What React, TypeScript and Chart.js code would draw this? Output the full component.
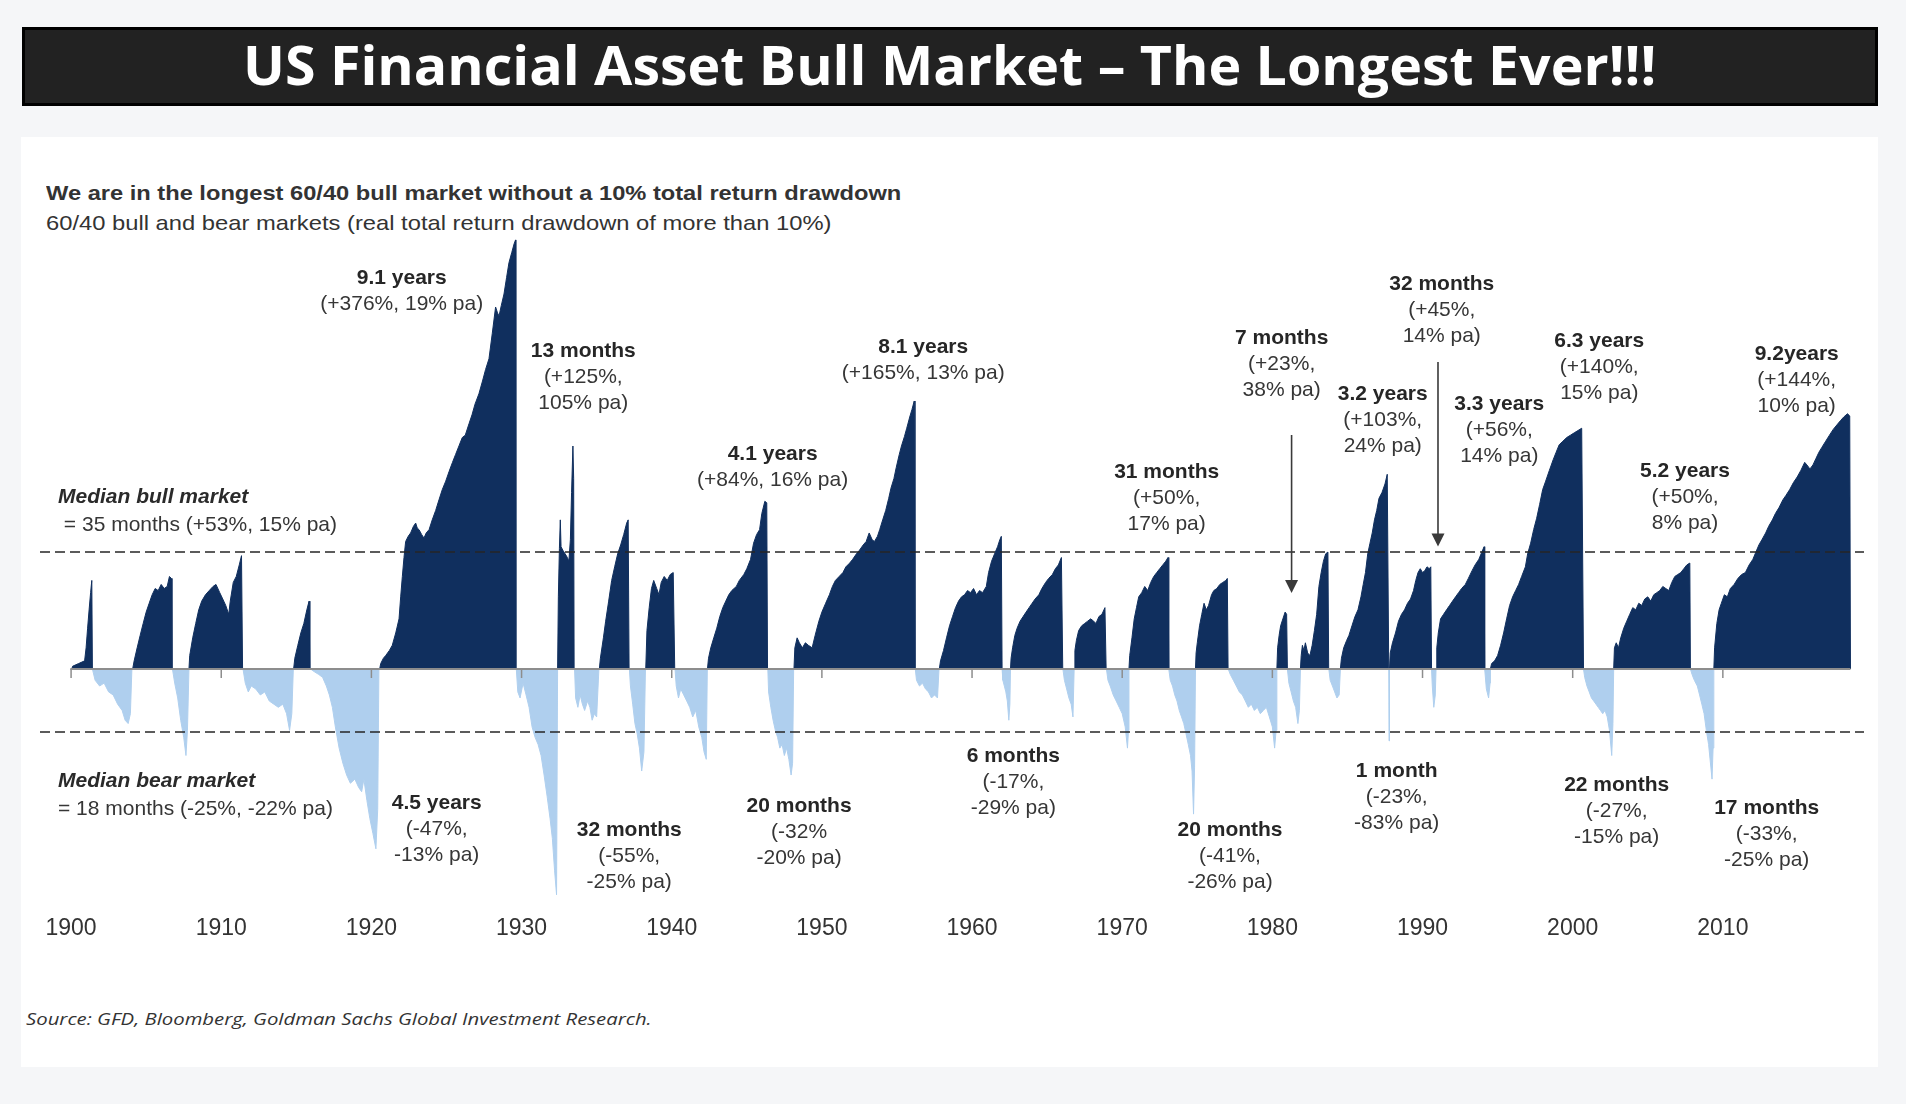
import React, { useEffect, useLayoutEffect, useRef } from 'react';
import { Chart, registerables } from 'chart.js';

Chart.register(...registerables);

// ---------------- text ----------------
const TITLE = 'US Financial Asset Bull Market \u2013 The Longest Ever!!!';
const SUBTITLE_1 = 'We are in the longest 60/40 bull market without a 10% total return drawdown';
const SUBTITLE_2 = '60/40 bull and bear markets (real total return drawdown of more than 10%)';
const SOURCE = 'Source: GFD, Bloomberg, Goldman Sachs Global Investment Research.';

// ---------------- data ----------------
const decades = [1900, 1910, 1920, 1930, 1940, 1950, 1960, 1970, 1980, 1990, 2000, 2010];
const medianBullReturn = 53; // % (upper dashed line)
const medianBearLine = -20.5; // % (lower dashed line, as drawn)
const baselineSpan = [1899.95, 2018.5];

// [year, cumulative real total return in %] - bull markets
const bullSeries: [number, number][] = [
  [1900.05, 0], [1900.1, 1], [1900.5, 2], [1900.9, 3], [1901.0, 8], [1901.1, 16], [1901.2, 24], [1901.3, 32], [1901.38, 38], [1901.42, 0],
  [1904.1, 0], [1904.2, 3], [1904.4, 8], [1904.6, 13], [1904.8, 18], [1905.0, 23], [1905.2, 27], [1905.4, 31], [1905.6, 34], [1905.8, 33], [1906.0, 36], [1906.2, 34], [1906.4, 35], [1906.55, 40], [1906.68, 39], [1906.72, 0],
  [1907.85, 0], [1907.9, 5], [1908.1, 12], [1908.3, 18], [1908.5, 24], [1908.7, 28], [1908.95, 31], [1909.2, 33], [1909.45, 35], [1909.65, 36], [1909.9, 32], [1910.1, 29], [1910.3, 26], [1910.5, 22], [1910.6, 28], [1910.8, 37], [1911.0, 40], [1911.2, 46], [1911.35, 51], [1911.42, 0],
  [1914.82, 0], [1914.9, 4], [1915.1, 9], [1915.3, 14], [1915.5, 18], [1915.7, 24], [1915.85, 28], [1915.9, 0],
  [1920.55, 0], [1920.62, 2], [1920.8, 4], [1920.95, 5], [1921.2, 7], [1921.39, 9], [1921.62, 14], [1921.84, 20], [1921.95, 30], [1922.06, 40], [1922.17, 50], [1922.28, 59], [1922.45, 62], [1922.61, 64], [1922.8, 68], [1922.95, 70], [1923.05, 67], [1923.17, 66], [1923.35, 63], [1923.5, 61], [1923.65, 64], [1923.84, 66], [1924.05, 72], [1924.28, 78], [1924.5, 85], [1924.72, 92], [1924.95, 98], [1925.17, 105], [1925.4, 112], [1925.6, 118], [1925.83, 125], [1926.05, 132], [1926.25, 134], [1926.5, 144], [1926.7, 152], [1926.9, 162], [1927.16, 172], [1927.4, 185], [1927.6, 197], [1927.83, 209], [1928.05, 239], [1928.27, 273], [1928.4, 265], [1928.5, 261], [1928.65, 275], [1928.83, 291], [1929.0, 315], [1929.16, 338], [1929.35, 355], [1929.5, 369], [1929.6, 376], [1929.62, 0],
  [1932.4, 0], [1932.45, 30], [1932.52, 55], [1932.58, 72], [1932.63, 56], [1932.75, 54], [1932.9, 52], [1933.05, 50], [1933.15, 48], [1933.25, 60], [1933.33, 90], [1933.42, 125], [1933.47, 100], [1933.5, 0],
  [1935.18, 0], [1935.25, 4], [1935.45, 12], [1935.6, 19], [1935.8, 28], [1936.0, 38], [1936.2, 45], [1936.4, 52], [1936.6, 57], [1936.8, 63], [1937.0, 70], [1937.1, 72], [1937.16, 0],
  [1938.27, 0], [1938.35, 15], [1938.5, 25], [1938.65, 34], [1938.8, 38], [1939.0, 34], [1939.15, 31], [1939.3, 37], [1939.5, 40], [1939.7, 38], [1939.9, 41], [1940.1, 42], [1940.2, 0],
  [1942.38, 0], [1942.45, 4], [1942.6, 8], [1942.8, 12], [1943.0, 16], [1943.2, 21], [1943.4, 25], [1943.6, 28], [1943.8, 31], [1944.0, 33], [1944.3, 35], [1944.5, 38], [1944.8, 41], [1945.0, 44], [1945.25, 49], [1945.45, 58], [1945.65, 63], [1945.85, 66], [1946.0, 76], [1946.2, 84], [1946.33, 83], [1946.38, 0],
  [1948.14, 0], [1948.2, 8], [1948.35, 12], [1948.5, 10], [1948.7, 8], [1948.9, 10], [1949.1, 9], [1949.35, 8], [1949.55, 13], [1949.8, 19], [1950.0, 23], [1950.25, 27], [1950.5, 31], [1950.7, 35], [1950.9, 38], [1951.15, 40], [1951.4, 42], [1951.6, 45], [1951.85, 47], [1952.05, 49], [1952.3, 52], [1952.5, 54], [1952.75, 57], [1952.95, 59], [1953.15, 64], [1953.35, 60], [1953.5, 59], [1953.7, 62], [1953.85, 66], [1954.05, 72], [1954.25, 78], [1954.45, 86], [1954.6, 93], [1954.8, 100], [1954.95, 108], [1955.15, 118], [1955.3, 125], [1955.5, 133], [1955.65, 140], [1955.85, 150], [1956.0, 157], [1956.15, 165], [1956.2, 0],
  [1957.82, 0], [1957.9, 3], [1958.1, 7], [1958.3, 12], [1958.5, 17], [1958.7, 21], [1958.9, 25], [1959.1, 28], [1959.3, 30], [1959.5, 31], [1959.7, 33], [1959.9, 32], [1960.1, 34], [1960.3, 31], [1960.5, 33], [1960.7, 32], [1960.95, 35], [1961.1, 42], [1961.3, 48], [1961.5, 52], [1961.7, 56], [1961.85, 60], [1961.95, 62], [1962.0, 0],
  [1962.56, 0], [1962.6, 4], [1962.7, 8], [1962.85, 13], [1963.0, 16], [1963.2, 19], [1963.4, 21], [1963.6, 23], [1963.8, 25], [1964.0, 27], [1964.2, 29], [1964.45, 31], [1964.65, 34], [1964.9, 37], [1965.1, 39], [1965.35, 41], [1965.55, 44], [1965.75, 46], [1965.95, 50], [1966.04, 0],
  [1966.8, 0], [1966.85, 7], [1966.95, 11], [1967.1, 15], [1967.3, 17], [1967.5, 18], [1967.7, 19], [1967.9, 20], [1968.1, 19], [1968.25, 18], [1968.45, 21], [1968.65, 22], [1968.85, 25], [1968.93, 0],
  [1970.45, 0], [1970.5, 5], [1970.65, 12], [1970.8, 20], [1970.95, 25], [1971.1, 30], [1971.3, 32], [1971.5, 35], [1971.7, 33], [1971.9, 37], [1972.1, 40], [1972.3, 42], [1972.5, 44], [1972.7, 46], [1972.9, 48], [1973.05, 50], [1973.1, 0],
  [1974.88, 0], [1974.92, 6], [1975.0, 10], [1975.15, 17], [1975.3, 22], [1975.45, 27], [1975.6, 24], [1975.75, 26], [1975.95, 31], [1976.1, 33], [1976.3, 34], [1976.5, 36], [1976.7, 37], [1976.9, 38], [1977.0, 39], [1977.05, 0],
  [1980.3, 0], [1980.35, 8], [1980.45, 13], [1980.55, 17], [1980.7, 20], [1980.85, 23], [1980.95, 22], [1981.0, 0],
  [1981.87, 0], [1981.92, 5], [1982.0, 9], [1982.1, 7], [1982.2, 10], [1982.35, 6], [1982.5, 5], [1982.65, 9], [1982.8, 15], [1982.95, 22], [1983.1, 35], [1983.25, 42], [1983.4, 48], [1983.55, 52], [1983.7, 53], [1983.75, 0],
  [1984.53, 0], [1984.6, 4], [1984.75, 8], [1984.95, 11], [1985.1, 13], [1985.3, 17], [1985.5, 21], [1985.7, 24], [1985.9, 30], [1986.05, 36], [1986.2, 42], [1986.35, 52], [1986.5, 58], [1986.65, 64], [1986.8, 72], [1986.95, 78], [1987.1, 86], [1987.3, 90], [1987.5, 96], [1987.65, 103], [1987.75, 0],
  [1987.8, 0], [1987.85, 6], [1988.0, 10], [1988.2, 14], [1988.4, 19], [1988.6, 22], [1988.8, 24], [1989.0, 27], [1989.2, 29], [1989.4, 33], [1989.55, 38], [1989.7, 42], [1989.85, 44], [1990.0, 42], [1990.15, 43], [1990.3, 45], [1990.45, 44], [1990.55, 45], [1990.6, 0],
  [1990.9, 0], [1990.95, 8], [1991.05, 14], [1991.2, 20], [1991.4, 22], [1991.6, 24], [1991.8, 26], [1992.0, 28], [1992.2, 30], [1992.4, 32], [1992.6, 34], [1992.85, 36], [1993.05, 39], [1993.3, 43], [1993.5, 46], [1993.75, 49], [1993.95, 53], [1994.1, 56], [1994.14, 0],
  [1994.52, 0], [1994.6, 2], [1994.8, 3], [1995.0, 5], [1995.2, 9], [1995.4, 14], [1995.6, 20], [1995.8, 26], [1996.0, 30], [1996.2, 33], [1996.4, 36], [1996.6, 40], [1996.85, 45], [1997.0, 52], [1997.2, 58], [1997.4, 66], [1997.6, 73], [1997.8, 82], [1998.0, 92], [1998.2, 98], [1998.45, 106], [1998.7, 114], [1998.9, 120], [1999.1, 126], [1999.35, 129], [1999.6, 132], [1999.85, 134], [2000.1, 136], [2000.35, 138], [2000.6, 140], [2000.72, 0],
  [2002.73, 0], [2002.78, 8], [2002.9, 10], [2003.05, 8], [2003.2, 12], [2003.4, 16], [2003.6, 19], [2003.8, 22], [2004.0, 25], [2004.2, 24], [2004.4, 27], [2004.6, 26], [2004.8, 29], [2005.0, 30], [2005.2, 28], [2005.4, 31], [2005.6, 32], [2005.8, 33], [2006.0, 35], [2006.2, 34], [2006.4, 33], [2006.6, 37], [2006.8, 40], [2007.0, 41], [2007.2, 42], [2007.4, 44], [2007.6, 46], [2007.8, 47], [2007.84, 0],
  [2009.4, 0], [2009.45, 8], [2009.6, 18], [2009.75, 24], [2009.9, 27], [2010.1, 31], [2010.3, 30], [2010.5, 34], [2010.75, 36], [2011.0, 39], [2011.25, 41], [2011.5, 42], [2011.75, 46], [2012.0, 49], [2012.2, 53], [2012.4, 57], [2012.6, 60], [2012.85, 64], [2013.05, 68], [2013.3, 72], [2013.5, 76], [2013.75, 80], [2014.0, 85], [2014.2, 88], [2014.45, 92], [2014.7, 97], [2014.95, 101], [2015.2, 106], [2015.45, 112], [2015.6, 110], [2015.8, 107], [2016.0, 110], [2016.2, 115], [2016.4, 120], [2016.6, 124], [2016.85, 129], [2017.1, 134], [2017.35, 139], [2017.6, 143], [2017.85, 147], [2018.05, 150], [2018.3, 153], [2018.45, 151], [2018.5, 0],
];

// [year, drawdown in %] - bear markets
const bearSeries: [number, number][] = [
  [1901.42, 0], [1901.6, -4], [1901.9, -6], [1902.2, -5], [1902.5, -8], [1902.8, -9], [1903.1, -12], [1903.4, -14], [1903.6, -17], [1903.8, -18], [1903.95, -15], [1904.05, 0],
  [1906.75, 0], [1906.9, -5], [1907.1, -10], [1907.3, -17], [1907.5, -22], [1907.65, -27], [1907.75, -20], [1907.85, 0],
  [1911.45, 0], [1911.6, -5], [1911.8, -8], [1912.0, -6], [1912.3, -7], [1912.6, -9], [1912.9, -8], [1913.2, -11], [1913.5, -12], [1913.8, -13], [1914.1, -12], [1914.35, -15], [1914.55, -20], [1914.7, -15], [1914.8, 0],
  [1915.95, 0], [1916.2, -1], [1916.5, -2], [1916.75, -3], [1917.0, -6], [1917.2, -9], [1917.4, -13], [1917.6, -19], [1917.85, -25], [1918.1, -29], [1918.35, -32], [1918.6, -34], [1918.9, -33], [1919.15, -35], [1919.35, -36], [1919.5, -33], [1919.7, -38], [1919.9, -42], [1920.1, -45], [1920.3, -48], [1920.42, -40], [1920.5, 0],
  [1929.65, 0], [1929.75, -8], [1929.9, -10], [1930.1, -5], [1930.3, -9], [1930.5, -13], [1930.7, -19], [1930.9, -22], [1931.1, -24], [1931.3, -27], [1931.5, -32], [1931.7, -37], [1931.9, -42], [1932.05, -46], [1932.2, -52], [1932.33, -56], [1932.4, 0],
  [1933.53, 0], [1933.6, -10], [1933.75, -13], [1933.9, -9], [1934.05, -12], [1934.2, -14], [1934.4, -11], [1934.55, -13], [1934.7, -17], [1934.85, -15], [1935.0, -16], [1935.15, 0],
  [1937.18, 0], [1937.25, -6], [1937.4, -12], [1937.55, -18], [1937.7, -21], [1937.85, -25], [1938.0, -31], [1938.15, -26], [1938.25, 0],
  [1940.22, 0], [1940.3, -6], [1940.45, -10], [1940.6, -7], [1940.8, -9], [1941.0, -11], [1941.2, -13], [1941.4, -16], [1941.6, -14], [1941.8, -19], [1942.0, -22], [1942.15, -26], [1942.3, -28], [1942.37, 0],
  [1946.4, 0], [1946.45, -8], [1946.6, -13], [1946.75, -17], [1946.9, -20], [1947.05, -22], [1947.2, -25], [1947.35, -24], [1947.5, -27], [1947.65, -25], [1947.8, -28], [1947.95, -32], [1948.05, -29], [1948.12, 0],
  [1956.22, 0], [1956.3, -4], [1956.5, -6], [1956.7, -5], [1956.9, -7], [1957.1, -8], [1957.3, -10], [1957.5, -9], [1957.7, -10], [1957.8, 0],
  [1962.0, 0], [1962.05, -4], [1962.15, -6], [1962.25, -8], [1962.35, -11], [1962.45, -17], [1962.52, -12], [1962.56, 0],
  [1966.05, 0], [1966.15, -4], [1966.3, -7], [1966.45, -10], [1966.6, -12], [1966.72, -16], [1966.8, 0],
  [1968.95, 0], [1969.05, -4], [1969.2, -6], [1969.4, -9], [1969.6, -11], [1969.8, -13], [1970.0, -15], [1970.2, -19], [1970.35, -25], [1970.42, -20], [1970.45, 0],
  [1973.1, 0], [1973.2, -4], [1973.35, -6], [1973.5, -9], [1973.65, -11], [1973.8, -14], [1973.95, -16], [1974.1, -18], [1974.25, -21], [1974.4, -24], [1974.55, -27], [1974.65, -31], [1974.75, -41], [1974.82, -30], [1974.88, 0],
  [1977.06, 0], [1977.2, -2], [1977.4, -4], [1977.6, -6], [1977.8, -8], [1978.0, -9], [1978.2, -11], [1978.4, -13], [1978.6, -12], [1978.8, -14], [1979.0, -13], [1979.2, -15], [1979.4, -14], [1979.6, -13], [1979.8, -16], [1980.0, -19], [1980.15, -25], [1980.25, -20], [1980.3, 0],
  [1981.0, 0], [1981.1, -5], [1981.25, -8], [1981.4, -11], [1981.55, -13], [1981.7, -18], [1981.8, -14], [1981.87, 0],
  [1983.76, 0], [1983.85, -4], [1984.0, -6], [1984.15, -8], [1984.3, -10], [1984.45, -9], [1984.53, 0],
  [1987.75, 0], [1987.77, -23], [1987.8, 0],
  [1990.6, 0], [1990.65, -6], [1990.75, -13], [1990.85, -9], [1990.9, 0],
  [1994.14, 0], [1994.25, -7], [1994.4, -10], [1994.5, -5], [1994.52, 0],
  [2000.72, 0], [2000.8, -3], [2000.95, -6], [2001.1, -8], [2001.25, -10], [2001.4, -11], [2001.55, -12], [2001.7, -13], [2001.85, -14], [2002.0, -15], [2002.15, -14], [2002.3, -16], [2002.45, -20], [2002.6, -27], [2002.68, -18], [2002.73, 0],
  [2007.84, 0], [2007.95, -2], [2008.1, -4], [2008.3, -6], [2008.45, -9], [2008.6, -12], [2008.75, -15], [2008.9, -20], [2009.05, -24], [2009.2, -30], [2009.28, -33], [2009.35, -25], [2009.4, 0],
];

// annotation labels: text lines and anchor [year, plot level]
const bullNotes = [
  { lines: ['9.1 years', '(+376%, 19% pa)'], anchor: [1922.02, 1.4193] },
  { lines: ['13 months', '(+125%,', '105% pa)'], anchor: [1934.11, 1.1567] },
  { lines: ['4.1 years', '(+84%, 16% pa)'], anchor: [1946.72, 0.7822] },
  { lines: ['8.1 years', '(+165%, 13% pa)'], anchor: [1956.75, 1.1695] },
  { lines: ['31 months', '(+50%,', '17% pa)'], anchor: [1972.96, 0.7142] },
  { lines: ['7 months', '(+23%,', '38% pa)'], anchor: [1980.62, 1.2011] },
  { lines: ['32 months', '(+45%,', '14% pa)'], anchor: [1991.28, 1.3989] },
  { lines: ['3.2 years', '(+103%,', '24% pa)'], anchor: [1987.35, 0.9989] },
  { lines: ['3.3 years', '(+56%,', '14% pa)'], anchor: [1995.11, 0.964] },
  { lines: ['6.3 years', '(+140%,', '15% pa)'], anchor: [2001.77, 1.1931] },
  { lines: ['5.2 years', '(+50%,', '8% pa)'], anchor: [2007.48, 0.7189] },
  { lines: ['9.2years', '(+144%,', '10% pa)'], anchor: [2014.92, 1.1458] },
];
const bearNotes = [
  { lines: ['4.5 years', '(-47%,', '-13% pa)'], anchor: [1924.35, -0.4873] },
  { lines: ['32 months', '(-55%,', '-25% pa)'], anchor: [1937.17, -0.5855] },
  { lines: ['20 months', '(-32%', '-20% pa)'], anchor: [1948.48, -0.4982] },
  { lines: ['6 months', '(-17%,', '-29% pa)'], anchor: [1962.75, -0.3164] },
  { lines: ['20 months', '(-41%,', '-26% pa)'], anchor: [1977.18, -0.5855] },
  { lines: ['1 month', '(-23%,', '-83% pa)'], anchor: [1988.28, -0.372] },
  { lines: ['22 months', '(-27%,', '-15% pa)'], anchor: [2002.93, -0.424] },
  { lines: ['17 months', '(-33%,', '-25% pa)'], anchor: [2012.92, -0.5065] },
];
const medianNotes = [
  { lines: ['Median bull market', ' = 35 months (+53%, 15% pa)'], anchor: [1899.13, 0.624] },
  { lines: ['Median bear market', '= 18 months (-25%, -22% pa)'], anchor: [1899.13, -0.4084] },
];
// arrows: [year, top level, tip level]
const arrowMarks = [
  [1981.28, 0.851, 0.2764],
  [1991.03, 1.1164, 0.4455],
];

// ---------------- layout / style ----------------
const W = 1906;
const H = 1104;
const AREA = { left: 40, right: 1864, top: 190, bottom: 1000 };
const ZERO_Y = 669;
const PX_PER_LOG = 275;
const X_MIN = 1897.93;
const X_MAX = 2019.4;
const Y_MAX = (ZERO_Y - AREA.top) / PX_PER_LOG;
const Y_MIN = -(AREA.bottom - ZERO_Y) / PX_PER_LOG;
const AXIS_LABEL_TOP = -(914.8 - ZERO_Y) / PX_PER_LOG; // level where year labels start
const TICK_MARK_CENTER = -4.5 / PX_PER_LOG; // decade tick marks hang 9px under the zero line
const NAVY = '#102f5e';
const LIGHT = '#afcfee';
const TEXT = '#2e2e2e';
const SANS = '"Liberation Sans", Arial, sans-serif';

const level = (pct: number) => Math.log1p(pct / 100);
const toPoints = (s: [number, number][]) => s.map(([x, p]) => ({ x, y: level(p) }));

const notesPlugin = {
  id: 'notes',
  afterDraw(chart: any) {
    const { ctx } = chart;
    const xs = chart.scales.x;
    const ys = chart.scales.y;
    ctx.save();
    ctx.textBaseline = 'middle';
    ctx.fillStyle = TEXT;
    const gap = 26;
    ctx.textAlign = 'center';
    [...bullNotes, ...bearNotes].forEach((n) => {
      const px = xs.getPixelForValue(n.anchor[0]);
      const py = ys.getPixelForValue(n.anchor[1]);
      n.lines.forEach((t, i) => {
        ctx.font = (i === 0 ? 'bold ' : '') + '21px ' + SANS;
        ctx.fillStyle = i === 0 ? '#262626' : '#363636';
        ctx.fillText(t, px, py + i * gap);
      });
    });
    ctx.textAlign = 'left';
    medianNotes.forEach((n) => {
      const px = xs.getPixelForValue(n.anchor[0]);
      const py = ys.getPixelForValue(n.anchor[1]);
      n.lines.forEach((t, i) => {
        ctx.font = (i === 0 ? 'italic bold ' : '') + '21px ' + SANS;
        ctx.fillStyle = i === 0 ? '#2a2a2a' : '#363636';
        ctx.fillText(t, px, py + i * 27.5);
      });
    });
    ctx.strokeStyle = '#3a3a3a';
    ctx.fillStyle = '#3a3a3a';
    ctx.lineWidth = 1.6;
    arrowMarks.forEach(([yr, top, tip]) => {
      const px = xs.getPixelForValue(yr);
      const pt = ys.getPixelForValue(top);
      const pk = ys.getPixelForValue(tip);
      ctx.beginPath();
      ctx.moveTo(px, pt);
      ctx.lineTo(px, pk - 12);
      ctx.stroke();
      ctx.beginPath();
      ctx.moveTo(px - 6.5, pk - 13);
      ctx.lineTo(px + 6.5, pk - 13);
      ctx.lineTo(px, pk);
      ctx.closePath();
      ctx.fill();
    });
    ctx.restore();
  },
};

function FitText(props: { text: string; width: number; origin: string; style: any }) {
  const ref = useRef<HTMLSpanElement>(null);
  useLayoutEffect(() => {
    const el = ref.current;
    if (!el) return;
    const w = el.offsetWidth;
    if (w > 0) el.style.transform = `scaleX(${props.width / w})`;
  }, [props.text, props.width]);
  return (
    <span
      ref={ref}
      style={{ display: 'inline-block', whiteSpace: 'nowrap', transformOrigin: props.origin, ...props.style }}
    >
      {props.text}
    </span>
  );
}

function BullBearChart() {
  const canvasRef = useRef<HTMLCanvasElement>(null);
  useEffect(() => {
    const canvas = canvasRef.current;
    if (!canvas) return;
    const chart = new Chart(canvas, {
      type: 'line',
      data: {
        datasets: [
          {
            label: 'Median bull',
            data: [{ x: X_MIN, y: level(medianBullReturn) }, { x: X_MAX, y: level(medianBullReturn) }],
            borderColor: '#262626',
            borderWidth: 1.5,
            borderDash: [10, 5],
            pointRadius: 0,
            fill: false,
            order: 0,
          },
          {
            label: 'Median bear',
            data: [{ x: X_MIN, y: level(medianBearLine) }, { x: X_MAX, y: level(medianBearLine) }],
            borderColor: '#262626',
            borderWidth: 1.5,
            borderDash: [10, 5],
            pointRadius: 0,
            fill: false,
            order: 1,
          },
          {
            label: 'Decade ticks',
            data: decades.map((d) => ({ x: d, y: TICK_MARK_CENTER })),
            showLine: false,
            pointStyle: 'line',
            pointRotation: 90,
            pointRadius: 4.5,
            pointBorderColor: '#8d8d8d',
            pointBorderWidth: 1.5,
            borderColor: '#8d8d8d',
            fill: false,
            order: 2,
          },
          {
            label: 'Baseline',
            data: [{ x: baselineSpan[0], y: 0 }, { x: baselineSpan[1], y: 0 }],
            borderColor: '#8d8d8d',
            borderWidth: 2,
            pointRadius: 0,
            fill: false,
            order: 3,
          },
          {
            label: 'Bull markets',
            data: toPoints(bullSeries),
            borderColor: NAVY,
            backgroundColor: NAVY,
            borderWidth: 1,
            pointRadius: 0,
            tension: 0,
            fill: 'origin',
            order: 4,
          },
          {
            label: 'Bear markets',
            data: toPoints(bearSeries),
            borderColor: LIGHT,
            backgroundColor: LIGHT,
            borderWidth: 1,
            pointRadius: 0,
            tension: 0,
            fill: 'origin',
            order: 5,
          },
        ],
      },
      options: {
        responsive: false,
        animation: false,
        events: [],
        layout: {
          padding: { left: AREA.left, right: W - AREA.right, top: AREA.top, bottom: H - AREA.bottom },
        },
        plugins: { legend: { display: false }, tooltip: { enabled: false }, title: { display: false } },
        scales: {
          x: {
            type: 'linear',
            min: X_MIN,
            max: X_MAX,
            position: { y: AXIS_LABEL_TOP },
            afterBuildTicks: (axis: any) => {
              axis.ticks = decades.map((v) => ({ value: v }));
            },
            ticks: {
              callback: (v: any) => String(v),
              font: { family: SANS, size: 23 },
              color: '#333333',
              padding: 0,
              maxRotation: 0,
              autoSkip: false,
            },
            grid: { display: false, drawOnChartArea: false, drawTicks: false },
            border: { display: false },
          },
          y: {
            type: 'linear',
            display: false,
            min: Y_MIN,
            max: Y_MAX,
          },
        },
      },
      plugins: [notesPlugin],
    } as any);
    return () => chart.destroy();
  }, []);
  return <canvas ref={canvasRef} width={W} height={H} style={{ position: 'absolute', left: 0, top: 0, width: W, height: H }} />;
}

export default function App() {
  return (
    <div style={{ position: 'absolute', left: 0, top: 0, width: W, height: H, background: '#f5f6f8', overflow: 'hidden' }}>
      <div
        style={{
          position: 'absolute', left: 22, top: 27, width: 1856, height: 79, boxSizing: 'border-box',
          border: '3px solid #000', background: '#222222',
        }}
      />
      <div style={{ position: 'absolute', left: 22, top: 24, width: 1856, height: 80, lineHeight: '80px', textAlign: 'center' }}>
        <FitText
          text={TITLE}
          width={1413}
          origin="50% 50%"
          style={{ fontFamily: '"Open Sans", sans-serif', fontWeight: 700, fontSize: 54, color: '#ffffff', lineHeight: '80px' }}
        />
      </div>
      <div style={{ position: 'absolute', left: 21, top: 137, width: 1857, height: 930, background: '#ffffff' }} />
      <div style={{ position: 'absolute', left: 46, top: 179.5, height: 26, lineHeight: '26px' }}>
        <FitText
          text={SUBTITLE_1}
          width={855}
          origin="0% 50%"
          style={{ fontFamily: SANS, fontWeight: 700, fontSize: 21, color: '#333333', lineHeight: '26px' }}
        />
      </div>
      <div style={{ position: 'absolute', left: 46, top: 209.5, height: 26, lineHeight: '26px' }}>
        <FitText
          text={SUBTITLE_2}
          width={786}
          origin="0% 50%"
          style={{ fontFamily: SANS, fontWeight: 400, fontSize: 21, color: '#333333', lineHeight: '26px' }}
        />
      </div>
      <div style={{ position: 'absolute', left: 26, top: 1008, height: 22, lineHeight: '22px' }}>
        <FitText
          text={SOURCE}
          width={626}
          origin="0% 50%"
          style={{ fontFamily: '"Open Sans", sans-serif', fontStyle: 'italic', fontSize: 17, color: '#333333', lineHeight: '22px' }}
        />
      </div>
      <BullBearChart />
    </div>
  );
}
